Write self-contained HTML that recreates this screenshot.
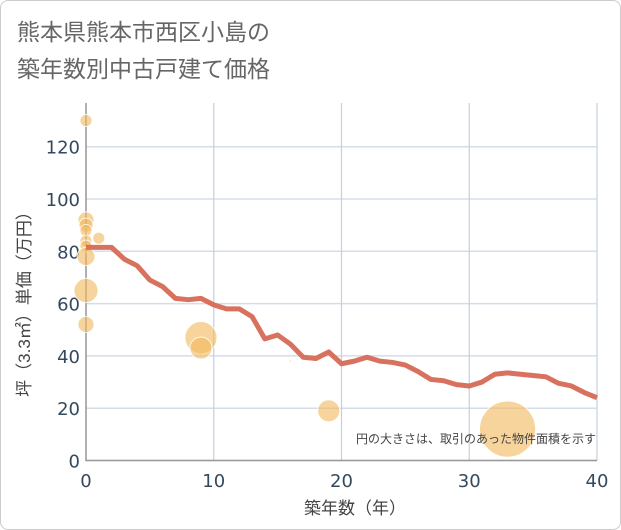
<!DOCTYPE html>
<html><head><meta charset="utf-8"><style>
body{margin:0;background:#fff;font-family:"Liberation Sans","Noto Sans CJK JP",sans-serif}
#wrap{position:relative;width:619px;height:528px;border:1px solid #ccc;border-radius:8px;overflow:hidden}
</style></head><body>
<div id="wrap">
<svg id="c" width="621" height="530" style="position:absolute;left:-1px;top:-1px">
<text x="17" y="40" font-size="23" fill="#666" font-family="Liberation Sans,Noto Sans CJK JP,sans-serif">熊本県熊本市西区小島の</text>
<text x="17" y="77" font-size="23" fill="#666" font-family="Liberation Sans,Noto Sans CJK JP,sans-serif">築年数別中古戸建て価格</text>
<g id="grid"></g><g id="marks"></g>
<text x="596" y="443" font-size="12" fill="#444" text-anchor="end" font-family="Liberation Sans,Noto Sans CJK JP,sans-serif">円の大きさは、取引のあった物件面積を示す</text>
<text x="355" y="514" font-size="17" fill="#444" text-anchor="middle" font-family="Liberation Sans,Noto Sans CJK JP,sans-serif">築年数（年）</text>
<text transform="translate(30,300) rotate(-90)" font-size="17" fill="#444" text-anchor="middle" font-family="Liberation Sans,Noto Sans CJK JP,sans-serif">坪（3.3㎡）単価（万円）</text>
</svg></div>
<script>
const xTicks=[0,10,20,30,40];
const yTicks=[0,20,40,60,80,100,120];
const lineYears=[0,1,2,3,4,5,6,7,8,9,10,11,12,13,14,15,16,17,18,19,20,21,22,23,24,25,26,27,28,29,30,31,32,33,34,35,36,37,38,39,40];
const lineValues=[81.5,81.5,81.5,77,74.5,69,66.5,62,61.5,62,59.5,58,58,55,46.5,48,44.5,39.5,39,41.5,37,38,39.5,38,37.5,36.5,34,31,30.5,29,28.5,30,33,33.5,33,32.5,32,29.5,28.5,26,24];
const bubbleYears=[0,0,0,0,0,0,1,0,0,0,9,9,16,19,33];
const bubbleValues=[130,92,90,88,84,82,85,78,65,52,47,43,38,19,12];
const bubbleSizes=[6,8,7,6,6,6,6,9,12,8,16,11,1,11,28];
const NS="http://www.w3.org/2000/svg";
const X0=86,X1=597,Y0=460.5,Ytop=103;
const xs=v=>X0+(X1-X0)*v/40;
const ys=v=>Y0-v*(52.3/20);
function mk(t,a,p){const e=document.createElementNS(NS,t);for(const k in a)e.setAttribute(k,a[k]);p.appendChild(e);return e;}
const g=document.getElementById('grid'),m=document.getElementById('marks');
yTicks.forEach(v=>{
 const l=mk('line',{x1:X0,x2:X1,y1:ys(v),y2:ys(v),stroke:'#d5dde8','stroke-width':1.5},g);
 
 
 const t=mk('text',{x:X0-6,y:ys(v)+7,'font-size':18,fill:'#34495e','text-anchor':'end','font-family':'DejaVu Sans,sans-serif'},g);t.textContent=v;
 
 
});
xTicks.forEach(v=>{
 const l=mk('line',{x1:xs(v),x2:xs(v),y1:Ytop,y2:Y0,stroke:'#c5d0de','stroke-width':1.2},g);
 
 
 const t=mk('text',{x:xs(v),y:487,'font-size':18,fill:'#34495e','text-anchor':'middle','font-family':'DejaVu Sans,sans-serif'},g);t.textContent=v;
 
 
});
const ax=mk('path',{d:`M${X0},${Ytop}V${Y0}H${X1}`,fill:'none',stroke:'#999','stroke-width':1.5},g);


bubbleYears.forEach((yr,i)=>{
 const c=mk('circle',{cx:xs(yr),cy:ys(bubbleValues[i]),r:bubbleSizes[i],fill:'#f3b85c','fill-opacity':0.6,stroke:'#fff','stroke-width':0.8},m);
 
 
});
const p=mk('polyline',{points:lineYears.map((yr,i)=>xs(yr)+','+ys(lineValues[i])).join(' '),fill:'none',stroke:'#d66a55','stroke-width':5,'stroke-linejoin':'round','stroke-opacity':0.95},m);


</script>
</body></html>
